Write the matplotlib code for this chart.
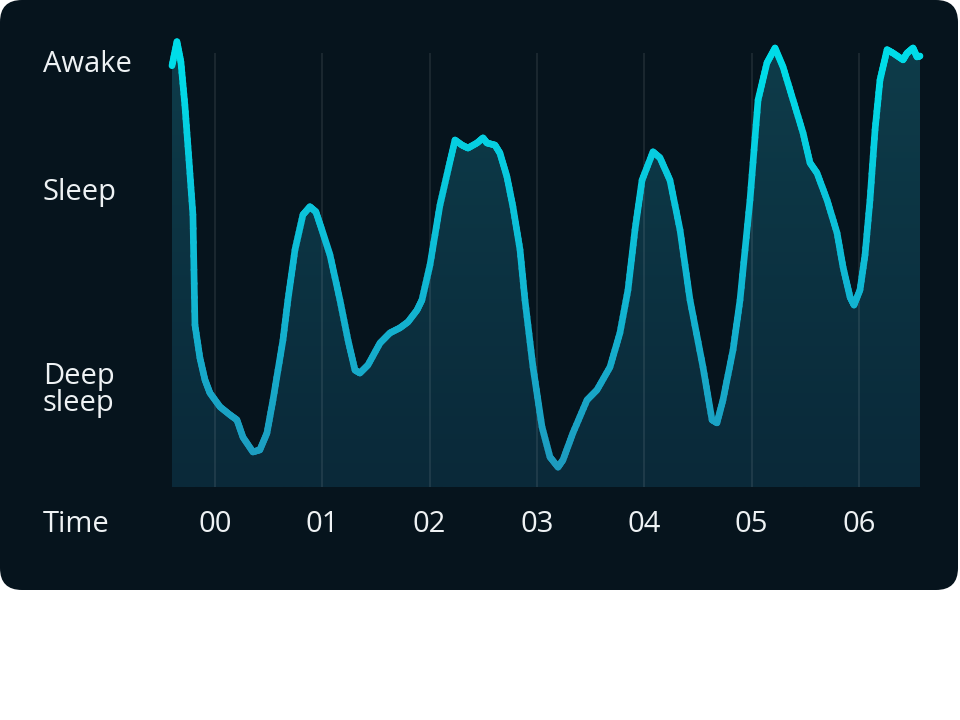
import numpy as np
import matplotlib
matplotlib.use("Agg")
import matplotlib.pyplot as plt
from matplotlib.collections import LineCollection
from matplotlib.colors import LinearSegmentedColormap, Normalize
from matplotlib.patches import FancyBboxPatch, Polygon
from matplotlib import transforms

# hours after midnight (00 = midnight) and sleep level (0 = deepest, 100 = awake)
hours = [-0.40, -0.354, -0.317, -0.28, -0.242, -0.205, -0.186, -0.14, -0.093, -0.047,
         0.047, 0.14, 0.205, 0.261, 0.354, 0.419, 0.485, 0.541, 0.634, 0.68,
         0.746, 0.82, 0.885, 0.941, 0.997, 1.072, 1.165, 1.24, 1.305, 1.351,
         1.426, 1.538, 1.631, 1.724, 1.799, 1.883, 1.929, 2.004, 2.097, 2.172,
         2.237, 2.302, 2.358, 2.442, 2.498, 2.535, 2.61, 2.656, 2.721, 2.777,
         2.843, 2.889, 2.964, 3.048, 3.122, 3.197, 3.243, 3.336, 3.467, 3.56,
         3.681, 3.774, 3.849, 3.914, 3.98, 4.082, 4.147, 4.24, 4.334, 4.427,
         4.548, 4.632, 4.678, 4.734, 4.828, 4.893, 4.986, 5.061, 5.144, 5.219,
         5.294, 5.387, 5.48, 5.545, 5.61, 5.704, 5.797, 5.853, 5.918, 5.955,
         6.011, 6.058, 6.104, 6.151, 6.197, 6.263, 6.319, 6.412, 6.449, 6.505,
         6.542, 6.57]
level = [99.8, 105.5, 100.7, 90.5, 77.5, 64.5, 38.4, 30.6, 25.4, 22.3,
         19.0, 17.1, 15.9, 11.8, 8.3, 8.8, 12.8, 20.6, 34.8, 44.3,
         56.2, 64.5, 66.4, 65.2, 60.9, 55.0, 44.3, 34.8, 27.7, 27.0,
         28.9, 34.1, 36.5, 37.7, 39.1, 41.9, 44.3, 52.6, 66.8, 75.1,
         82.2, 81.0, 80.3, 81.5, 82.7, 81.5, 81.0, 79.1, 73.5, 66.4,
         56.2, 44.3, 28.4, 14.2, 7.1, 4.7, 6.4, 12.8, 20.6, 23.0,
         28.4, 36.5, 46.7, 60.9, 72.7, 79.4, 78.0, 72.7, 60.9, 44.3,
         28.4, 15.9, 15.2, 20.6, 32.5, 44.3, 68.0, 91.7, 100.5, 104.0,
         99.5, 91.7, 83.9, 76.8, 74.4, 68.0, 60.2, 52.1, 45.0, 43.1,
         46.7, 55.0, 68.0, 84.6, 96.4, 103.6, 102.8, 101.2, 102.8, 104.0,
         101.9, 102.1]

tick_hours = [0, 1, 2, 3, 4, 5, 6]
tick_labels = ["00", "01", "02", "03", "04", "05", "06"]
level_ticks = [100, 69.7, 23.0]
level_labels = ["Awake", "Sleep", "Deep\nsleep"]

plt.rcParams["font.family"] = ["Open Sans", "DejaVu Sans"]
card = "#06141d"
txt = "#eef2f4"
fs = 21

fig = plt.figure(figsize=(9.6, 7.2), dpi=100)
fig.patch.set_facecolor("white")

# dark rounded card behind the chart
bg = fig.add_axes([0, 0, 1, 1])
bg.set_xlim(0, 960)
bg.set_ylim(720, 0)
bg.axis("off")
bg.add_patch(FancyBboxPatch((0, 0), 958, 590, boxstyle="round,pad=0,rounding_size=22",
                            facecolor=card, edgecolor="none"))

ax = fig.add_axes([172 / 960, 233 / 720, 748 / 960, 447 / 720])
ax.set_facecolor("none")
for s in ax.spines.values():
    s.set_visible(False)
x0, x1 = hours[0], hours[-1]
ytop = 105.9
ax.set_xlim(x0, x1)
ax.set_ylim(0, ytop)
ax.set_xticks([])
ax.set_yticks([])

# gradient area under the curve
fill_cmap = LinearSegmentedColormap.from_list("fill", ["#0a2939", "#0e3c4a"])
grad = np.linspace(0, 1, 256).reshape(-1, 1)
im = ax.imshow(grad, extent=[x0, x1, 0, ytop], origin="lower", aspect="auto",
               cmap=fill_cmap, zorder=1)
verts = list(zip(hours, level)) + [(x1, 0), (x0, 0)]
poly = Polygon(verts, closed=True, facecolor="none", edgecolor="none")
ax.add_patch(poly)
im.set_clip_path(poly)

# grid lines
ax.vlines(tick_hours, 0, 102.8, color="white", alpha=0.09, lw=1.3, zorder=2)

# line with vertical colour gradient
line_cmap = LinearSegmentedColormap.from_list("line", ["#1f98bd", "#10b8d4", "#00dce8"])
norm = Normalize(0, 100)
segs, cols = [], []
h = np.array(hours)
v = np.array(level)
for i in range(len(h) - 1):
    t = np.linspace(0, 1, 9)
    xs = h[i] + (h[i + 1] - h[i]) * t
    ys = v[i] + (v[i + 1] - v[i]) * t
    for j in range(len(t) - 1):
        segs.append([(xs[j], ys[j]), (xs[j + 1], ys[j + 1])])
        cols.append(line_cmap(norm((ys[j] + ys[j + 1]) / 2)))
lc = LineCollection(segs, colors=cols, linewidths=4.8, capstyle="round",
                    joinstyle="round", zorder=3, clip_on=False)
ax.add_collection(lc)

# labels
ytrans = transforms.blended_transform_factory(fig.transFigure, ax.transData)
for val, lab in zip(level_ticks, level_labels):
    ax.text(43 / 960, val, lab, transform=ytrans, ha="left", va="center",
            color=txt, fontsize=fs, linespacing=0.9)

xtrans = transforms.blended_transform_factory(ax.transData, fig.transFigure)
for hr, lab in zip(tick_hours, tick_labels):
    ax.text(hr, 1 - 525 / 720, lab, transform=xtrans, ha="center", va="center",
            color=txt, fontsize=fs)
ax.text(43 / 960, 1 - 525 / 720, "Time", transform=fig.transFigure, ha="left",
        va="center", color=txt, fontsize=fs)

fig.savefig("out.png", dpi=100, facecolor="white")
